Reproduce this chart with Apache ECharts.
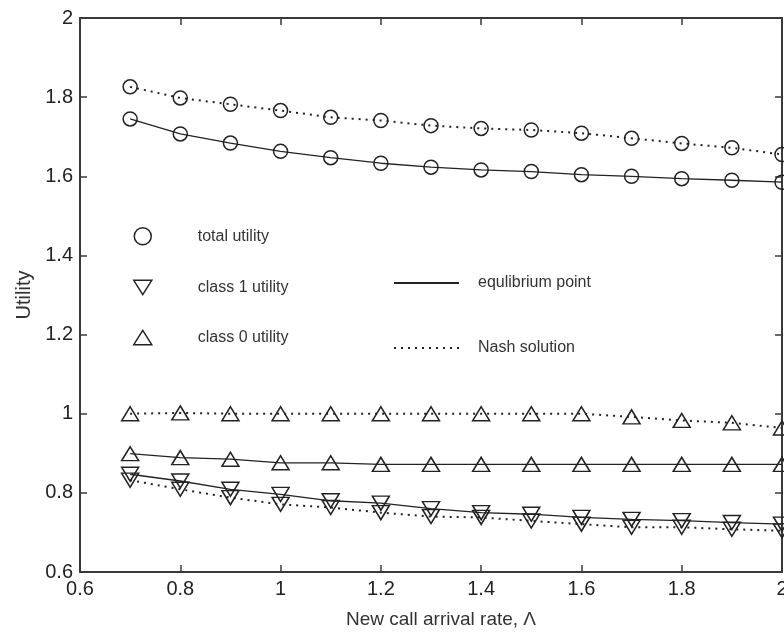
<!DOCTYPE html>
<html>
<head>
<meta charset="utf-8">
<script src="https://cdn.jsdelivr.net/npm/echarts@6/dist/echarts.min.js"></script>
<style>html,body{margin:0;padding:0;background:#fff;overflow:hidden}#c{width:784px;height:632px}</style>
</head>
<body>
<div id="c"></div>
<script>
var arrivalRates = [0.7, 0.8, 0.9, 1.0, 1.1, 1.2, 1.3, 1.4, 1.5, 1.6, 1.7, 1.8, 1.9, 2.0];
var totalEquilibrium = [1.745, 1.707, 1.684, 1.663, 1.647, 1.633, 1.623, 1.616, 1.612, 1.604, 1.600, 1.594, 1.590, 1.585];
var totalNash = [1.826, 1.798, 1.782, 1.766, 1.749, 1.741, 1.728, 1.721, 1.717, 1.709, 1.696, 1.683, 1.672, 1.655];
var class1Equilibrium = [0.847, 0.830, 0.809, 0.796, 0.780, 0.774, 0.760, 0.750, 0.746, 0.738, 0.733, 0.730, 0.725, 0.721];
var class1Nash = [0.832, 0.809, 0.788, 0.771, 0.763, 0.750, 0.740, 0.738, 0.729, 0.721, 0.713, 0.713, 0.708, 0.704];
var class0Equilibrium = [0.899, 0.889, 0.885, 0.876, 0.876, 0.872, 0.872, 0.872, 0.872, 0.872, 0.872, 0.872, 0.872, 0.872];
var class0Nash = [1.000, 1.002, 1.000, 1.000, 1.000, 1.000, 1.000, 1.000, 1.000, 1.000, 0.992, 0.983, 0.977, 0.964];
var xTicks = {min: 0.6, max: 2, step: 0.2};
var yTicks = {min: 0.6, max: 2, step: 0.2};
var markerLegend = ['total utility', 'class 1 utility', 'class 0 utility'];
var lineLegend = ['equlibrium point', 'Nash solution'];

var INK = '#222';
var FONT = '"Liberation Sans", Arial, sans-serif';
var DOWN_TRI = 'path://M0,0 L20,0 L10,16 Z';
var UP_TRI = 'path://M10,0 L20,16 L0,16 Z';
var HOLLOW = {color: 'rgba(0,0,0,0)', borderColor: INK, borderWidth: 1.5};

function pairs(vals) { return arrivalRates.map(function (x, i) { return [x, vals[i]]; }); }

function dataSeries(name, vals, symbol, size, dotted) {
  return {
    name: name, type: 'line', data: pairs(vals), symbol: symbol, symbolSize: size,
    showAllSymbol: true, clip: false, z: 3,
    lineStyle: dotted ? {color: INK, width: 2, type: [2, 5]} : {color: INK, width: 1.3},
    itemStyle: HOLLOW,
    emphasis: {disabled: true}, animation: false
  };
}

var chart = echarts.init(document.getElementById('c'), null, {renderer: 'canvas'});
var axisCommon = {
  axisLine: {show: true, lineStyle: {color: '#3a3a3a', width: 2}},
  axisTick: {show: true, inside: true, length: 7, lineStyle: {color: '#3a3a3a', width: 1.5}},
  splitLine: {show: false}
};
var option = {
  backgroundColor: '#fff',
  animation: false,
  grid: {left: 80, right: 2, top: 18, bottom: 60, containLabel: false, outerBoundsMode: 'none'},
  xAxis: [
    Object.assign({type: 'value', min: xTicks.min, max: xTicks.max, interval: xTicks.step, position: 'bottom',
      name: 'New call arrival rate, \u039B', nameLocation: 'middle', nameGap: 38,
      nameTextStyle: {color: '#333', fontSize: 19, fontFamily: FONT, padding: [0, 0, 0, 20]},
      axisLabel: {color: '#222', fontSize: 20, fontFamily: FONT, margin: 7}}, axisCommon),
    Object.assign({type: 'value', min: xTicks.min, max: xTicks.max, interval: xTicks.step, position: 'top',
      axisLabel: {show: false}}, axisCommon)
  ],
  yAxis: [
    Object.assign({type: 'value', min: yTicks.min, max: yTicks.max, interval: yTicks.step, position: 'left',
      name: 'Utility', nameLocation: 'middle', nameGap: 42, nameRotate: 90,
      nameTextStyle: {color: '#333', fontSize: 20, fontFamily: FONT},
      axisLabel: {color: '#222', fontSize: 20, fontFamily: FONT, margin: 7}}, axisCommon),
    Object.assign({type: 'value', min: yTicks.min, max: yTicks.max, interval: yTicks.step, position: 'right',
      axisLabel: {show: false}}, axisCommon)
  ],
  legend: [
    {
      orient: 'vertical', left: 133, top: 227, padding: 0, itemWidth: 18, itemHeight: 17, itemGap: 34,
      selectedMode: false,
      textStyle: {color: '#333', fontSize: 16, fontFamily: FONT, padding: [0, 0, 0, 41]},
      data: [
        {name: markerLegend[0], icon: 'circle', itemStyle: HOLLOW},
        {name: markerLegend[1], icon: DOWN_TRI, itemStyle: HOLLOW},
        {name: markerLegend[2], icon: UP_TRI, itemStyle: HOLLOW}
      ]
    },
    {
      orient: 'vertical', left: 393, top: 275, padding: 0, itemWidth: 65, itemHeight: 14, itemGap: 49,
      selectedMode: false,
      textStyle: {color: '#333', fontSize: 16, fontFamily: FONT, padding: [0, 0, 0, 14]},
      data: [
        {name: lineLegend[0], itemStyle: {opacity: 0}},
        {name: lineLegend[1], itemStyle: {opacity: 0}}
      ]
    }
  ],
  series: [
    dataSeries('total utility - equilibrium', totalEquilibrium, 'circle', 14, false),
    dataSeries('total utility - Nash', totalNash, 'circle', 14, true),
    dataSeries('class 1 utility - equilibrium', class1Equilibrium, DOWN_TRI, [17, 14], false),
    dataSeries('class 1 utility - Nash', class1Nash, DOWN_TRI, [17, 14], true),
    dataSeries('class 0 utility - equilibrium', class0Equilibrium, UP_TRI, [17, 14], false),
    dataSeries('class 0 utility - Nash', class0Nash, UP_TRI, [17, 14], true),
    {name: markerLegend[0], type: 'line', data: [], symbol: 'circle'},
    {name: markerLegend[1], type: 'line', data: [], symbol: DOWN_TRI},
    {name: markerLegend[2], type: 'line', data: [], symbol: UP_TRI},
    {name: lineLegend[0], type: 'line', data: [], symbol: 'none', symbolSize: 0, lineStyle: {color: INK, width: 1.5}, itemStyle: {color: INK}},
    {name: lineLegend[1], type: 'line', data: [], symbol: 'none', symbolSize: 0, lineStyle: {color: INK, width: 2, type: [2, 5]}, itemStyle: {color: INK}}
  ]
};
chart.setOption(option);
</script>
</body>
</html>
